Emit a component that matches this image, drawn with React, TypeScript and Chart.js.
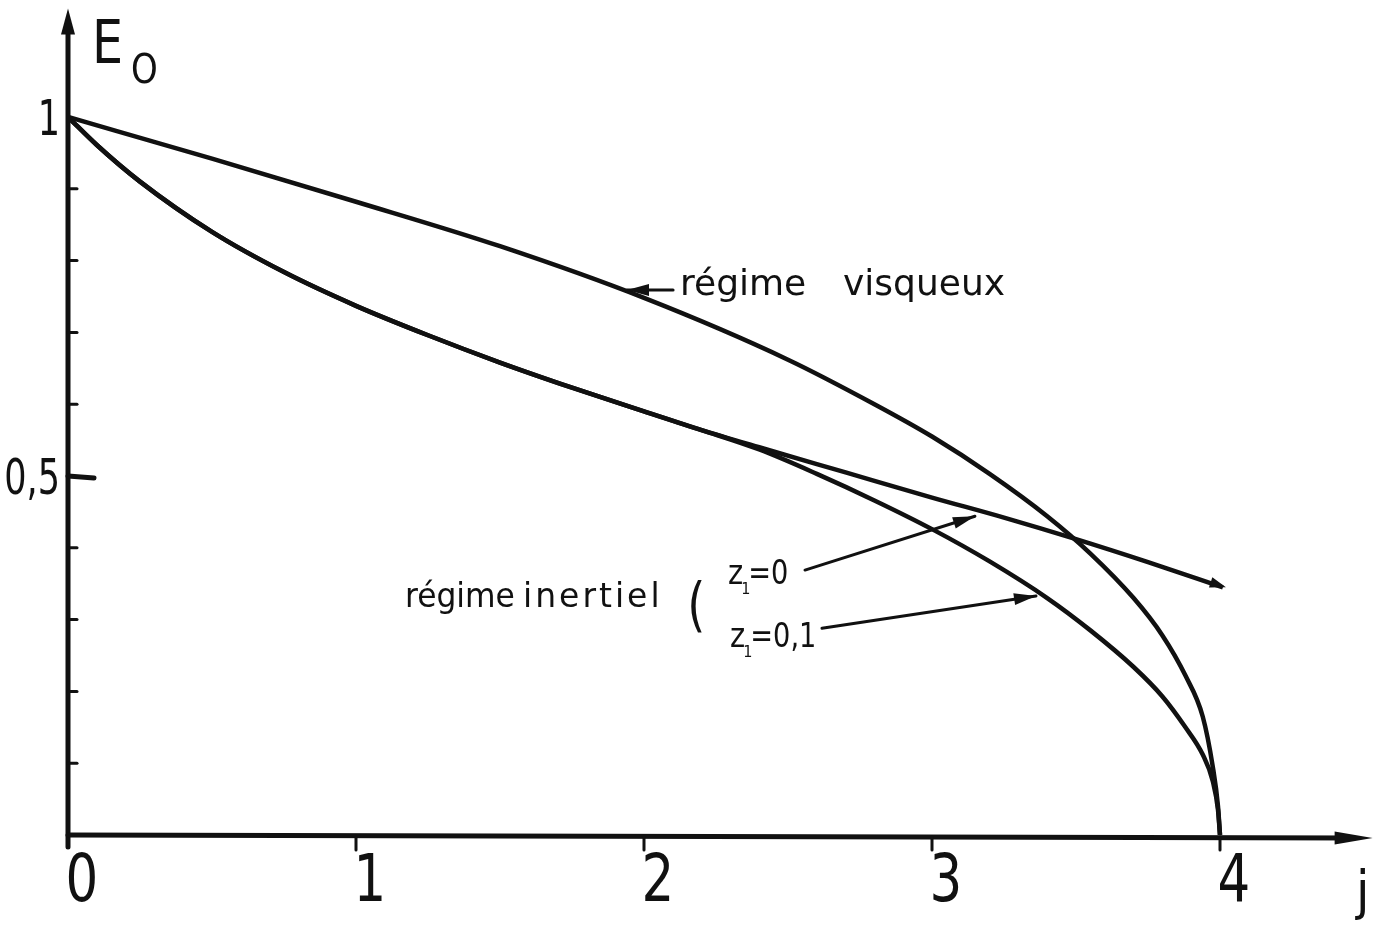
import React, { useEffect, useRef } from "react";
import { Chart, registerables } from "chart.js";

Chart.register(...registerables);

const INK = "#111111";
const SANS = '"DejaVu Sans", "Liberation Sans", sans-serif';

// Régime visqueux
const visqueuxJ = [0, 0.5, 1.0, 1.5, 2.0, 2.5, 2.8, 3.0, 3.2, 3.4, 3.55, 3.7, 3.8, 3.88, 3.94, 3.975, 3.993, 4.0];
const visqueuxE = [1, 0.942, 0.882, 0.82, 0.748, 0.662, 0.6, 0.555, 0.503, 0.444, 0.392, 0.33, 0.278, 0.222, 0.165, 0.095, 0.04, 0];

// Régime inertiel : partie commune aux deux courbes
const inertielJ = [0, 0.1, 0.25, 0.5, 0.75, 1.0, 1.25, 1.5, 1.75, 2.0, 2.2];
const inertielE = [1, 0.961, 0.91, 0.84, 0.784, 0.737, 0.696, 0.658, 0.623, 0.59, 0.564];

// Branche z1 = 0
const z0J = [2.4, 2.7, 3.0, 3.25, 3.5, 3.75, 4.01];
const z0E = [0.54, 0.505, 0.47, 0.442, 0.412, 0.38, 0.345];

// Branche z1 = 0,1
const z01J = [2.4, 2.6, 2.8, 3.0, 3.2, 3.4, 3.55, 3.7, 3.8, 3.88, 3.94, 3.975, 3.993, 4.0];
const z01E = [0.537, 0.503, 0.466, 0.426, 0.381, 0.33, 0.285, 0.234, 0.193, 0.15, 0.112, 0.075, 0.035, 0];

// Axes
const xTickValues = [1, 2, 3, 4];
const xLabelValues = [0, 1, 2, 3, 4];
const xLabelTexts = ["0", "1", "2", "3", "4"];
const yMinorTicks = [0.1, 0.2, 0.3, 0.4, 0.6, 0.7, 0.8, 0.9];
const yMajorTick = 0.5;
const yLabelValues = [1, 0.5];
const yLabelTexts = ["1", "0,5"];
const X_MAX = 4.55;
const Y_MAX = 1.15;
const X_ARROW_END = 4.53;
const Y_ARROW_END = 1.151;

const toPts = (xs: number[], ys: number[]) => xs.map((x, i) => ({ x, y: ys[i] }));

function narrowText(
  ctx: CanvasRenderingContext2D,
  text: string,
  x: number,
  y: number,
  size: number,
  sx: number,
  align: CanvasTextAlign = "left",
  spacing = 0
) {
  ctx.save();
  ctx.font = `${size}px ${SANS}`;
  (ctx as any).letterSpacing = `${spacing}px`;
  ctx.textAlign = align;
  ctx.textBaseline = "alphabetic";
  ctx.translate(x, y);
  ctx.scale(sx, 1);
  ctx.fillText(text, 0, 0);
  const w = ctx.measureText(text).width * sx;
  ctx.restore();
  return w;
}

function arrowHead(ctx: CanvasRenderingContext2D, fx: number, fy: number, tx: number, ty: number, len: number, half: number) {
  const a = Math.atan2(ty - fy, tx - fx);
  const bx = tx - len * Math.cos(a);
  const by = ty - len * Math.sin(a);
  ctx.beginPath();
  ctx.moveTo(tx, ty);
  ctx.lineTo(bx + half * Math.sin(a), by - half * Math.cos(a));
  ctx.lineTo(bx - half * Math.sin(a), by + half * Math.cos(a));
  ctx.closePath();
  ctx.fill();
}

function arrow(ctx: CanvasRenderingContext2D, fx: number, fy: number, tx: number, ty: number) {
  ctx.lineWidth = 3;
  ctx.beginPath();
  ctx.moveTo(fx, fy);
  ctx.lineTo(tx, ty);
  ctx.stroke();
  arrowHead(ctx, fx, fy, tx, ty, 22, 6);
}

function drawZ(ctx: CanvasRenderingContext2D, x: number, y: number, rest: string) {
  const wz = narrowText(ctx, "z", x, y, 34, 0.85);
  narrowText(ctx, "1", x + wz - 2, y + 10, 16, 0.9);
  narrowText(ctx, rest, x + wz + 5, y, 34, 0.8);
}

const decor = {
  id: "decor",
  afterDatasetsDraw(chart: any) {
    const ctx: CanvasRenderingContext2D = chart.ctx;
    const xs = chart.scales.x;
    const ys = chart.scales.y;
    const X = (v: number) => xs.getPixelForValue(v);
    const Y = (v: number) => ys.getPixelForValue(v);
    ctx.save();
    ctx.strokeStyle = INK;
    ctx.fillStyle = INK;
    ctx.lineCap = "round";

    // Axe vertical
    ctx.lineWidth = 5;
    ctx.beginPath();
    ctx.moveTo(X(0), Y(0) + 12);
    ctx.lineTo(X(0), Y(Y_ARROW_END) + 20);
    ctx.stroke();
    arrowHead(ctx, X(0), Y(0), X(0), Y(Y_ARROW_END), 26, 7);

    // Axe horizontal
    ctx.beginPath();
    ctx.moveTo(X(0), Y(0));
    ctx.lineTo(X(X_ARROW_END) - 20, Y(0) + 3);
    ctx.stroke();
    arrowHead(ctx, X(0), Y(0) + 3, X(X_ARROW_END), Y(0) + 3, 38, 6.5);

    // Graduations
    ctx.lineWidth = 3;
    for (const v of yMinorTicks) {
      ctx.beginPath();
      ctx.moveTo(X(0), Y(v));
      ctx.lineTo(X(0) + 9, Y(v));
      ctx.stroke();
    }
    ctx.lineWidth = 5;
    ctx.beginPath();
    ctx.moveTo(X(0), Y(yMajorTick));
    ctx.lineTo(X(0) + 26, Y(yMajorTick) + 2);
    ctx.stroke();
    ctx.lineWidth = 3;
    for (const v of xTickValues) {
      ctx.beginPath();
      ctx.moveTo(X(v), Y(0) + 2);
      ctx.lineTo(X(v), Y(0) + 15);
      ctx.stroke();
    }

    // Étiquettes des axes
    xLabelValues.forEach((v, i) => {
      narrowText(ctx, xLabelTexts[i], X(v) + 14, Y(0) + 66, 66, 0.78, "center");
    });
    narrowText(ctx, "j", X(X_ARROW_END) - 10, Y(0) + 74, 54, 0.9, "center");

    yLabelValues.forEach((v, i) => {
      narrowText(ctx, yLabelTexts[i], X(0) - 8, Y(v) + 18, 50, 0.7, "right");
    });

    narrowText(ctx, "E", X(0) + 24, Y(Y_MAX) + 54, 60, 0.82);
    narrowText(ctx, "O", X(0) + 63, Y(Y_MAX) + 74, 40, 0.85);

    // Pointe à l'extrémité de la courbe z1 = 0
    const n = z0J.length;
    arrowHead(ctx, X(z0J[n - 2]), Y(z0E[n - 2]), X(z0J[n - 1]) + 3, Y(z0E[n - 1]), 16, 5.5);

    // Annotation "régime visqueux"
    arrow(ctx, X(2.101), Y(0.759), X(1.941), Y(0.759));
    narrowText(ctx, "régime", X(2.125), Y(0.752), 36, 1);
    narrowText(ctx, "visqueux", X(2.691), Y(0.752), 36, 1);

    // Annotation "régime inertiel"
    narrowText(ctx, "régime", X(1.17), Y(0.318), 33, 0.95);
    narrowText(ctx, "inertiel", X(1.58), Y(0.318), 33, 1, "left", 3);
    narrowText(ctx, "(", X(2.15), Y(0.292), 58, 0.8);

    drawZ(ctx, X(2.292), Y(0.35), "=0");
    arrow(ctx, X(2.559), Y(0.369), X(3.149), Y(0.444));

    drawZ(ctx, X(2.299), Y(0.262), "=0,1");
    arrow(ctx, X(2.618), Y(0.288), X(3.361), Y(0.333));

    ctx.restore();
  },
};

export default function App() {
  const ref = useRef<HTMLCanvasElement>(null);
  useEffect(() => {
    if (!ref.current) return;
    const common = {
      borderColor: INK,
      borderWidth: 4.5,
      pointRadius: 0,
      fill: false,
      cubicInterpolationMode: "monotone" as const,
    };
    const chart = new Chart(ref.current, {
      type: "line",
      data: {
        datasets: [
          { ...common, label: "régime visqueux", data: toPts(visqueuxJ, visqueuxE) },
          { ...common, label: "régime inertiel z1=0", data: toPts([...inertielJ, ...z0J], [...inertielE, ...z0E]) },
          { ...common, label: "régime inertiel z1=0,1", data: toPts([...inertielJ, ...z01J], [...inertielE, ...z01E]) },
        ],
      },
      options: {
        responsive: false,
        animation: false,
        devicePixelRatio: 1,
        layout: { padding: { left: 68, right: 1387 - 68 - 288 * X_MAX, top: 835 - 718 * Y_MAX, bottom: 91 } },
        scales: {
          x: { type: "linear", min: 0, max: X_MAX, display: false },
          y: { type: "linear", min: 0, max: Y_MAX, display: false },
        },
        plugins: { legend: { display: false }, tooltip: { enabled: false } },
      },
      plugins: [decor],
    });
    return () => chart.destroy();
  }, []);
  return (
    <div style={{ position: "fixed", left: 0, top: 0, width: 1387, height: 926, background: "#fff" }}>
      <canvas ref={ref} width={1387} height={926} style={{ display: "block", width: 1387, height: 926 }} />
    </div>
  );
}
